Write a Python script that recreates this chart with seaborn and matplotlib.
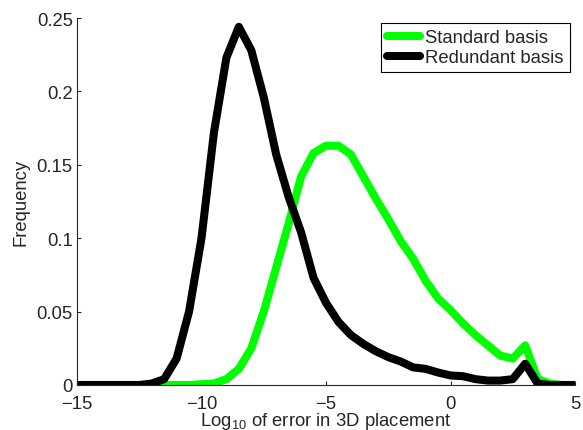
import numpy as np
import pandas as pd
import matplotlib
matplotlib.use("Agg")
import matplotlib.pyplot as plt
import seaborn as sns

# ── Data ──────────────────────────────────────────────────────────────────────
log_err = [-15, -14.5, -14, -13.5, -13, -12.5, -12, -11.5, -11, -10.5,
           -10, -9.5, -9, -8.5, -8, -7.5, -7, -6.5, -6, -5.5,
           -5, -4.5, -4, -3.5, -3, -2.5, -2, -1.5, -1, -0.5,
           0, 0.5, 1, 1.5, 2, 2.5, 3, 3.5, 4, 4.5, 5]

standard_freq = [0, 0, 0, 0, 0, 0, 0, 0, 0, 0,
                 0.0005, 0.001, 0.004, 0.011, 0.025, 0.05, 0.08, 0.11, 0.142, 0.158,
                 0.163, 0.163, 0.157, 0.142, 0.127, 0.113, 0.098, 0.086, 0.071, 0.059,
                 0.051, 0.042, 0.034, 0.027, 0.020, 0.018, 0.027, 0.004, 0.001, 0, 0]

redundant_freq = [0, 0, 0, 0, 0, 0, 0.001, 0.004, 0.018, 0.05,
                  0.1, 0.172, 0.223, 0.244, 0.228, 0.196, 0.157, 0.128, 0.104, 0.073,
                  0.056, 0.043, 0.034, 0.028, 0.023, 0.019, 0.016, 0.012, 0.011, 0.0085,
                  0.0065, 0.006, 0.004, 0.003, 0.003, 0.004, 0.0145, 0.001, 0, 0, 0]

series_names = ["Standard basis", "Redundant basis"]
colors = {"Standard basis": "#00ff00", "Redundant basis": "#000000"}

df = pd.DataFrame({
    "log_err": log_err * 2,
    "freq": standard_freq + redundant_freq,
    "basis": [series_names[0]] * len(log_err) + [series_names[1]] * len(log_err),
})

# ── Style ─────────────────────────────────────────────────────────────────────
FS = 13.3
sns.set_style("ticks")
plt.rcParams.update({
    "font.family": ["Liberation Sans", "DejaVu Sans"],
    "font.size": FS,
    "mathtext.default": "regular",
    "xtick.direction": "in",
    "ytick.direction": "in",
    "xtick.major.size": 3,
    "ytick.major.size": 3,
    "axes.linewidth": 0.8,
})

fig = plt.figure(figsize=(5.83, 4.31), dpi=100)
ax = fig.add_axes([77 / 583, 45 / 431, 498 / 583, 367 / 431])

sns.lineplot(data=df, x="log_err", y="freq", hue="basis", hue_order=series_names,
             palette=colors, linewidth=5.8, ax=ax, sort=False)

ax.set_xlim(-15, 5)
ax.set_ylim(0, 0.25)
ax.set_xticks([-15, -10, -5, 0, 5])
ax.set_yticks([0, 0.05, 0.1, 0.15, 0.2, 0.25])
ax.set_yticklabels(["0", "0.05", "0.1", "0.15", "0.2", "0.25"])
ax.tick_params(axis="x", labelsize=FS, pad=7)
ax.tick_params(axis="y", labelsize=FS, pad=3)
sns.despine(ax=ax)

ax.set_xlabel(r"Log$_{10}$ of error in 3D placement", fontsize=FS, labelpad=-1)
ax.set_ylabel("Frequency", fontsize=FS)
ax.yaxis.set_label_coords(-0.096, 0.5)

leg = ax.legend(loc="upper right", bbox_to_anchor=(0.99, 0.987), fontsize=FS,
                fancybox=False, framealpha=1, edgecolor="black",
                handlelength=1.75, borderpad=0.35, labelspacing=0.15,
                handletextpad=0.3, borderaxespad=0)
leg.get_frame().set_linewidth(0.8)

fig.savefig("out.png", dpi=100)
